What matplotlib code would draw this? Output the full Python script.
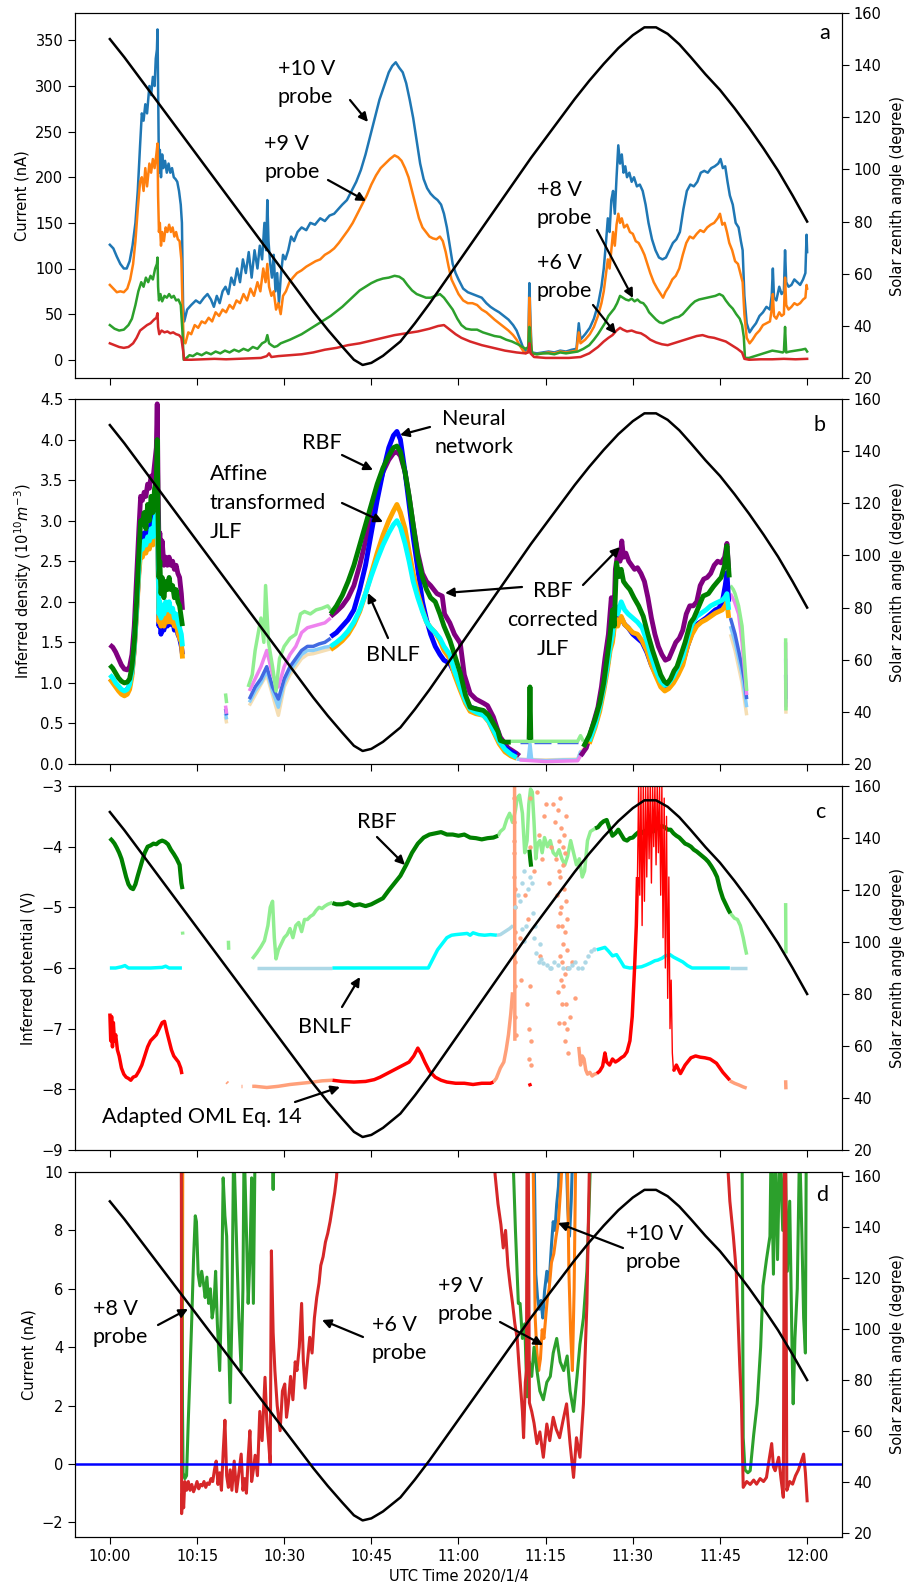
import numpy as np
import matplotlib
matplotlib.use("Agg")
import matplotlib.pyplot as plt

# ---------------- data (time in minutes after 10:00 UTC) ----------------
tick_minutes = [0, 15, 30, 45, 60, 75, 90, 105, 120]
tick_labels = ["10:00", "10:15", "10:30", "10:45", "11:00", "11:15", "11:30", "11:45", "12:00"]

sza_t = [0, 2.5, 5, 7.5, 10, 12.5, 15, 17.5, 20, 22.5, 25, 27.5, 30, 32.5, 35, 37.5, 40, 42, 43.5, 45,
         47, 50, 52.5, 55, 57.5, 60, 62.5, 65, 67.5, 70, 72.5, 75, 77.5, 80, 82.5, 85, 87.5, 90, 92, 94,
         96, 98, 100, 102.5, 105, 107.5, 110, 112.5, 115, 117.5, 120]
sza_v = [150, 143, 135.5, 128, 120.5, 113, 105.5, 98, 90.5, 83, 75.5, 68, 60.5, 53, 45.5, 38.5, 32, 27, 25, 25.8,
         28.5, 34, 41, 48.5, 56.5, 64.5, 72.5, 80.5, 88.5, 96.5, 104.5, 112, 119.5, 127, 134, 140.5, 146.5, 151.5, 154.5, 154.5,
         152, 148, 143, 136.5, 130.5, 123.5, 116, 108, 99.5, 90, 80]

# Panel a: probe currents (nA)
cur10 = [(0,126),(0.6,122),(1.2,113),(1.8,105),(2.4,100),(2.9,100),(3.4,108),(3.9,125),(4.4,150),(4.8,185),(5.2,235),(5.5,270),(5.8,262),(6.1,280),(6.4,270),(6.8,300),(7.1,290),(7.4,310),(7.7,300),(7.9,330),(8.1,340),(8.2,362),(8.3,300),(8.45,205),(8.6,230),(8.8,200),(9.0,225),(9.2,210),(9.5,218),(9.8,205),(10.1,215),(10.4,205),(10.7,210),(11.0,200),(11.3,198),(11.6,195),(11.9,185),(12.2,170),(12.4,150),(12.6,60),(12.8,42),(13.3,55),(14.0,60),(14.8,65),(15.5,62),(16.2,68),(16.8,72),(17.4,66),(17.9,58),(18.4,70),(18.9,62),(19.4,75),(19.9,80),(20.4,72),(20.9,90),(21.4,82),(21.9,100),(22.4,85),(22.9,110),(23.4,95),(23.9,118),(24.4,90),(24.9,120),(25.4,100),(25.8,125),(26.2,110),(26.6,150),(26.9,120),(27.1,175),(27.3,130),(27.6,105),(27.9,90),(28.2,115),(28.5,75),(28.8,95),(29.1,62),(29.4,90),(29.8,115),(30.2,110),(30.7,120),(31.2,135),(31.7,130),(32.3,140),(33.0,145),(33.8,142),(34.5,150),(35.3,148),(36.2,155),(37.0,152),(37.8,158),(38.6,160),(39.3,165),(40.0,170),(40.8,175),(41.6,185),(42.4,195),(43.2,208),(44.0,225),(44.8,245),(45.6,265),(46.4,285),(47.2,300),(48.0,315),(48.6,322),(49.2,326),(49.8,320),(50.4,315),(51.0,303),(51.6,285),(52.2,265),(52.8,240),(53.4,215),(54.0,198),(54.6,188),(55.2,182),(55.8,178),(56.4,175),(57.0,170),(57.5,160),(58.0,145),(58.5,125),(59.0,105),(59.5,95),(60.0,88),(60.8,78),(61.6,74),(62.4,72),(63.2,70),(64.0,68),(64.8,62),(65.5,58),(66.2,55),(67.0,52),(67.8,48),(68.6,44),(69.4,38),(70.0,32),(70.6,22),(71.2,12),(71.6,8),(72.0,12),(72.2,84),(72.4,40),(72.6,8),(73.5,7),(74.5,8),(75.5,9),(76.5,8),(77.5,10),(78.5,9),(79.5,11),(80.3,12),(80.7,40),(81.0,22),(81.8,28),(82.6,35),(83.3,45),(84.0,60),(84.6,80),(85.0,100),(85.4,130),(85.7,155),(86.0,140),(86.3,175),(86.6,185),(86.9,160),(87.2,200),(87.5,235),(87.8,215),(88.1,225),(88.4,205),(88.7,212),(89.0,200),(89.4,205),(89.8,195),(90.2,200),(90.7,190),(91.2,192),(91.7,185),(92.2,170),(92.7,150),(93.3,132),(93.9,120),(94.5,112),(95.1,110),(95.7,112),(96.3,120),(96.9,128),(97.5,132),(98.1,140),(98.7,165),(99.3,185),(99.9,192),(100.5,190),(101.1,195),(101.7,205),(102.3,207),(102.9,205),(103.5,210),(104.1,212),(104.7,215),(105.1,220),(105.5,210),(105.9,212),(106.3,195),(106.7,180),(107.2,170),(107.7,150),(108.2,145),(108.6,130),(108.9,120),(109.2,70),(109.6,40),(110.1,30),(110.6,35),(111.2,40),(111.8,48),(112.4,52),(113.0,58),(113.6,55),(113.9,70),(114.1,100),(114.3,68),(114.7,65),(115.2,80),(115.6,72),(116.0,75),(116.2,120),(116.4,85),(116.8,80),(117.3,82),(117.8,88),(118.3,85),(118.8,82),(119.3,88),(119.7,95),(119.9,137),(120,118)]
cur9 = [(0,82),(0.6,78),(1.2,74),(1.8,75),(2.4,74),(3.0,78),(3.5,88),(4.0,105),(4.4,130),(4.8,165),(5.2,195),(5.5,200),(5.8,185),(6.1,210),(6.4,190),(6.8,215),(7.1,205),(7.4,220),(7.7,210),(8.0,225),(8.2,237),(8.3,180),(8.45,140),(8.6,150),(8.8,125),(9.0,140),(9.3,130),(9.6,145),(9.9,140),(10.2,148),(10.5,140),(10.8,145),(11.1,135),(11.4,140),(11.7,132),(12.0,130),(12.3,110),(12.5,60),(12.7,20),(13.0,18),(13.5,30),(14.0,28),(14.6,38),(15.2,35),(15.8,42),(16.4,40),(17.0,46),(17.6,42),(18.2,52),(18.8,48),(19.4,55),(20.0,52),(20.6,60),(21.2,56),(21.8,65),(22.4,62),(23.0,72),(23.6,65),(24.2,78),(24.8,70),(25.4,85),(25.9,75),(26.4,100),(26.8,85),(27.1,105),(27.4,80),(27.8,70),(28.2,75),(28.6,55),(29.0,62),(29.4,50),(29.8,70),(30.3,75),(30.9,85),(31.5,90),(32.2,95),(33.0,98),(33.8,102),(34.6,105),(35.4,108),(36.2,110),(37.0,115),(37.8,118),(38.6,122),(39.4,128),(40.2,135),(41.0,142),(41.8,150),(42.6,160),(43.4,170),(44.2,180),(45.0,192),(45.8,202),(46.6,210),(47.4,215),(48.2,220),(49.0,224),(49.6,222),(50.2,218),(50.8,210),(51.4,200),(52.0,185),(52.6,170),(53.2,155),(53.8,145),(54.4,140),(55.0,135),(55.6,133),(56.2,132),(56.8,135),(57.3,130),(57.8,118),(58.3,102),(58.8,88),(59.4,80),(60.0,72),(60.8,65),(61.6,62),(62.4,62),(63.2,60),(64.0,55),(64.8,52),(65.5,48),(66.2,44),(67.0,40),(67.8,36),(68.6,32),(69.4,27),(70.0,22),(70.6,15),(71.2,9),(71.6,7),(72.0,10),(72.2,68),(72.4,30),(72.6,7),(73.5,6),(74.5,7),(75.5,8),(76.5,7),(77.5,9),(78.5,8),(79.5,9),(80.3,10),(80.7,30),(81.0,18),(81.8,22),(82.6,28),(83.3,36),(84.0,48),(84.6,62),(85.0,75),(85.4,95),(85.7,110),(86.0,100),(86.3,120),(86.6,140),(86.9,125),(87.2,148),(87.5,160),(87.8,150),(88.1,155),(88.5,145),(89.0,148),(89.5,140),(90.0,138),(90.5,130),(91.0,128),(91.5,122),(92.0,115),(92.5,105),(93.0,95),(93.6,85),(94.2,78),(94.8,72),(95.2,68),(95.6,74),(96.2,80),(96.8,88),(97.4,92),(98.0,100),(98.6,115),(99.2,128),(99.8,135),(100.4,133),(101.0,138),(101.6,142),(102.2,140),(102.8,145),(103.4,148),(104.0,150),(104.6,155),(105.0,160),(105.4,148),(105.8,150),(106.2,140),(106.6,128),(107.1,120),(107.6,108),(108.1,105),(108.5,95),(108.9,85),(109.2,50),(109.6,24),(110.1,18),(110.6,22),(111.2,28),(111.8,32),(112.4,38),(113.0,40),(113.6,42),(113.9,55),(114.1,72),(114.3,48),(114.7,45),(115.2,52),(115.6,48),(116.0,50),(116.2,90),(116.4,60),(116.8,55),(117.3,58),(117.8,62),(118.3,60),(118.8,62),(119.3,66),(119.7,68),(119.9,82),(120,78)]
cur8 = [(0,38),(0.8,34),(1.6,32),(2.4,33),(3.2,38),(3.8,45),(4.4,60),(4.9,75),(5.4,85),(5.8,80),(6.2,90),(6.6,85),(7.0,92),(7.4,88),(7.8,100),(8.1,105),(8.2,112),(8.3,80),(8.45,65),(8.7,72),(9.0,64),(9.4,70),(9.8,68),(10.2,72),(10.6,68),(11.0,70),(11.4,65),(11.8,66),(12.2,60),(12.5,30),(12.7,0),(13.2,2),(13.7,5),(14.3,4),(15.0,7),(15.8,5),(16.6,8),(17.4,6),(18.2,9),(19.0,7),(19.8,10),(20.6,8),(21.4,11),(22.2,9),(23.0,12),(23.8,10),(24.6,14),(25.4,12),(26.2,18),(26.8,20),(27.1,27),(27.4,18),(27.8,16),(28.3,14),(28.8,15),(29.4,18),(30.2,20),(31.0,22),(32.0,25),(33.0,28),(34.0,32),(35.0,36),(36.0,40),(37.0,44),(38.0,48),(39.0,53),(40.0,58),(41.0,64),(42.0,70),(43.0,76),(44.0,80),(45.0,84),(46.0,87),(47.0,89),(48.0,90),(49.0,92),(49.8,91),(50.5,88),(51.2,82),(52.0,76),(52.8,72),(53.6,70),(54.4,68),(55.2,68),(56.0,70),(56.8,72),(57.5,68),(58.2,62),(59.0,55),(59.8,45),(60.5,38),(61.3,34),(62.2,33),(63.2,33),(64.2,30),(65.2,28),(66.2,26),(67.2,25),(68.2,22),(69.2,20),(70.2,17),(71.0,14),(71.6,12),(72.0,14),(72.2,36),(72.4,18),(72.7,7),(73.5,6),(74.5,7),(75.5,7),(76.5,6),(77.5,8),(78.5,7),(79.5,8),(80.5,9),(81.5,12),(82.5,16),(83.3,22),(84.0,28),(84.6,34),(85.2,40),(85.8,48),(86.3,52),(86.8,56),(87.3,62),(87.8,70),(88.3,68),(88.8,66),(89.3,65),(89.8,67),(90.3,64),(90.8,66),(91.3,63),(91.8,62),(92.3,58),(92.8,52),(93.4,48),(94.0,44),(94.6,41),(95.2,40),(95.8,42),(96.5,44),(97.2,46),(97.9,47),(98.6,50),(99.3,55),(100.0,60),(100.7,64),(101.4,66),(102.1,67),(102.8,68),(103.5,69),(104.2,70),(104.9,72),(105.5,70),(106.0,65),(106.6,60),(107.2,56),(107.8,50),(108.4,45),(108.8,38),(109.1,25),(109.3,2),(110.0,2),(111.0,4),(112.0,6),(113.0,8),(114.0,10),(115.0,9),(115.8,8),(116.0,9),(116.2,36),(116.4,8),(117.0,9),(118.0,10),(119.0,11),(119.7,12),(120,9)]
cur6 = [(0,18),(0.8,16),(1.6,14),(2.4,13),(3.2,14),(4.0,18),(4.6,24),(5.2,32),(5.8,35),(6.4,38),(7.0,40),(7.6,44),(8.0,46),(8.2,51),(8.3,36),(8.5,28),(8.9,32),(9.4,30),(9.9,31),(10.4,29),(10.9,30),(11.4,28),(11.9,27),(12.3,24),(12.6,10),(12.8,0),(14,0),(16,0.5),(18,1),(20,0.5),(22,1),(24,1.5),(26,2),(27,4),(27.4,7),(27.8,3),(29,4),(31,5),(33,6),(35,8),(37,11),(39,13),(41,16),(43,18),(45,21),(47,24),(49,27),(51,29),(53,31),(55,34),(56.5,37),(57.5,38),(58.5,33),(59.5,28),(60.5,24),(62,20),(64,16),(66,13),(68,10),(70,8),(71.5,7),(72,8),(72.2,18),(72.4,7),(73,3),(75,2),(77,2),(79,2),(81,3),(82.5,7),(84,14),(85,20),(85.8,24),(86.5,27),(87.2,32),(87.8,35),(88.3,33),(89,31),(89.8,32),(90.6,30),(91.4,29),(92.2,26),(93,22),(94,19),(95,17),(96,16),(97,18),(98,20),(99,22),(100,24),(101,26),(102,27),(103,25),(104,24),(105,22),(106,20),(107,16),(108,12),(108.8,8),(109.2,1),(110,0),(112,0.5),(114,0.5),(116,1),(118,0.5),(120,1)]

# Panel b: inferred density (1e10 m^-3); each method: reliable segments + flagged segments
dens_purple = [[(0,1.47),(0.5,1.44),(1,1.38),(1.5,1.3),(2,1.22),(2.5,1.17),(3.0,1.16),(3.4,1.2),(3.8,1.35),(4.2,1.7),(4.6,2.3),(5.0,2.9),(5.3,3.3),(5.6,3.25),(5.9,3.35),(6.2,3.3),(6.5,3.45),(6.8,3.4),(7.1,3.55),(7.4,3.5),(7.7,3.7),(8.0,3.9),(8.15,4.44),(8.3,3.4),(8.45,2.7),(8.6,2.85),(8.8,2.6),(9.0,2.75),(9.3,2.45),(9.6,2.55),(9.9,2.45),(10.2,2.55),(10.5,2.45),(10.8,2.5),(11.1,2.4),(11.4,2.45),(11.7,2.35),(12.0,2.3),(12.3,2.1),(12.5,1.9)],
               [(38,1.82),(39,1.88),(40,1.95),(41,2.05),(42,2.2),(43,2.45),(44,2.75),(45,3.05),(46,3.35),(47,3.6),(48,3.75),(48.8,3.83),(49.4,3.85),(50,3.8),(50.8,3.6),(51.5,3.3),(52.2,2.95),(53,2.6),(53.8,2.35),(54.5,2.25),(55.2,2.2),(56.3,2.1),(57.2,2.07),(57.6,1.85),(58.5,1.74),(59.3,1.6),(60.3,1.49),(61,1.1),(62,0.87),(63,0.8),(64.3,0.75),(65,0.72),(66,0.58),(66.6,0.45),(67.2,0.33),(68.5,0.2),(70,0.13),(70.5,0.1)],
               [(81,0.1),(82,0.2),(83,0.45),(84,0.7),(84.6,0.95),(85.2,1.3),(85.8,1.6),(86.3,2.05),(86.7,1.7),(87,2.4),(87.4,2.6),(87.8,2.5),(88.1,2.75),(88.4,2.55),(88.8,2.6),(89.3,2.5),(89.8,2.45),(90.3,2.4),(90.8,2.42),(91.4,2.35),(92.0,2.25),(92.6,2.05),(93.2,1.8),(93.8,1.6),(94.4,1.45),(95.0,1.35),(95.6,1.28),(96.2,1.3),(96.8,1.4),(97.4,1.5),(98.0,1.55),(98.6,1.65),(99.2,1.85),(99.8,1.95),(100.4,1.95),(101.0,2.0),(101.6,2.2),(102.2,2.28),(102.8,2.3),(103.4,2.35),(104.0,2.45),(104.6,2.5),(105.2,2.48),(105.8,2.55),(106.2,2.72),(106.5,2.4)]]
dens_purple_flag = [[(19.9,0.72),(20.1,0.62)],
                    [(24,0.9),(25,1.05),(26,1.2),(27,1.4),(28,1.1),(29,0.95),(30,1.2),(31,1.35),(32,1.45),(33,1.62),(34,1.68),(35,1.7),(36,1.72),(37,1.74),(38,1.8)],
                    [(70.5,0.05),(75,0.03),(80.5,0.04),(81,0.1)],
                    [(106.8,2.1),(107.5,2.0),(108.2,1.85),(108.8,1.5),(109.3,1.1),(109.6,0.85)],
                    [(116.3,1.5),(116.35,0.7)]]
dens_green = [[(0,1.22),(0.5,1.18),(1,1.12),(1.5,1.06),(2,1.02),(2.5,1.0),(3.0,1.01),(3.4,1.05),(3.8,1.2),(4.2,1.5),(4.6,2.0),(5.0,2.6),(5.3,3.0),(5.6,2.95),(5.9,3.1),(6.2,2.9),(6.5,3.2),(6.8,3.0),(7.1,3.3),(7.4,3.1),(7.7,3.4),(8.0,3.5),(8.15,4.0),(8.3,3.0),(8.45,2.3),(8.6,2.5),(8.8,2.1),(9.0,2.3),(9.3,2.05),(9.6,2.25),(9.9,2.15),(10.2,2.3),(10.5,2.15),(10.8,2.2),(11.1,2.05),(11.4,2.15),(11.7,2.0),(12.0,1.95),(12.3,1.8),(12.5,1.7)],
              [(38,1.85),(39,1.95),(40,2.08),(41,2.25),(42,2.45),(43,2.7),(44,2.95),(45,3.2),(46,3.45),(47,3.65),(48,3.8),(48.8,3.9),(49.4,3.92),(50,3.85),(50.8,3.6),(51.5,3.3),(52.2,2.95),(53,2.55),(53.8,2.3),(54.5,2.15),(55.2,2.05),(56,2.0),(56.8,1.85),(57.5,1.7),(58.5,1.53),(59.3,1.35),(60.3,1.12),(61.2,0.85),(62,0.7),(63,0.68),(64.3,0.66),(65.2,0.6),(66,0.5),(66.8,0.4),(67.2,0.29),(68,0.27),(69,0.27)],
              [(72.15,0.3),(72.3,0.95),(72.45,0.3)],
              [(81.5,0.21),(82.5,0.35),(83.5,0.55),(84.3,0.75),(85,1.0),(85.6,1.32),(86.1,1.6),(86.5,1.9),(86.8,1.7),(87.2,2.48),(87.6,2.31),(88.0,2.4),(88.4,2.25),(88.9,2.2),(89.5,2.15),(90.2,2.05),(91.0,1.95),(91.8,1.82),(92.6,1.6),(93.4,1.4),(94.1,1.25),(94.8,1.1),(95.4,1.02),(95.9,0.99),(96.5,1.05),(97.1,1.15),(97.6,1.2),(98.3,1.35),(99.0,1.5),(99.9,1.74),(100.5,1.8),(101.1,1.9),(102.1,2.07),(103.0,2.1),(103.9,2.19),(104.6,2.25),(105.2,2.3),(105.8,2.45),(106.2,2.69),(106.6,2.3)]]
dens_green_flag = [[(19.9,0.87),(20.1,0.75)],
                   [(23.8,0.95),(24.5,1.1),(25,1.4),(25.5,1.6),(26,1.8),(26.5,1.5),(26.8,2.2),(27.3,1.5),(28,1.2),(28.6,0.9),(29.2,1.3),(30,1.45),(31,1.55),(32,1.6),(32.8,1.85),(33.5,1.88),(34.5,1.85),(35.5,1.9),(36.5,1.92),(37.5,1.95),(38,1.9)],
                   [(69,0.28),(72,0.28),(72.6,0.28),(75,0.28),(78,0.28),(80.5,0.28),(81,0.35),(81.5,0.28)],
                   [(106.8,2.2),(107.3,2.15),(107.6,2.1),(108.2,1.95),(108.8,1.7),(109.3,1.2),(109.6,0.9)],
                   [(116.3,1.55),(116.35,0.66)]]
dens_blue = [[(0,1.05),(0.5,1.02),(1,0.98),(1.5,0.94),(2,0.91),(2.5,0.9),(3.0,0.92),(3.4,0.97),(3.8,1.12),(4.2,1.42),(4.6,1.9),(5.0,2.4),(5.3,2.7),(5.6,2.75),(5.9,2.85),(6.2,2.8),(6.5,2.9),(6.8,2.85),(7.1,3.0),(7.4,2.9),(7.7,3.1),(8.0,3.2),(8.15,3.5),(8.3,2.6),(8.45,1.7),(8.6,1.85),(8.8,1.6),(9.0,1.75),(9.3,1.65),(9.6,1.8),(9.9,1.7),(10.2,1.85),(10.5,1.72),(10.8,1.78),(11.1,1.65),(11.4,1.72),(11.7,1.6),(12.0,1.55),(12.3,1.45),(12.5,1.35)],
             [(38,1.57),(39,1.62),(40,1.7),(41,1.78),(42,1.9),(43,2.15),(44,2.45),(45,2.85),(46,3.25),(47,3.6),(48,3.9),(48.8,4.05),(49.4,4.1),(50,4.0),(50.8,3.6),(51.5,3.2),(52.2,2.8),(53,2.4),(53.8,2.0),(54.5,1.78),(55.2,1.6),(56,1.45),(56.8,1.35),(57.5,1.28),(58.5,1.24),(59.3,1.12),(60.3,0.95),(61.2,0.8),(62,0.7),(63,0.68),(64.3,0.62),(65.2,0.55),(66,0.42),(67,0.28),(68,0.2),(69,0.15),(70,0.12)],
             [(82.5,0.3),(83.5,0.5),(84.3,0.7),(85,0.95),(85.6,1.2),(86.1,1.45),(86.5,1.55),(87.0,1.85),(87.4,1.75),(88.0,1.8),(88.6,1.72),(89.2,1.68),(90.0,1.6),(90.8,1.55),(91.6,1.5),(92.4,1.38),(93.2,1.22),(94.0,1.1),(94.8,1.0),(95.5,0.95),(96.2,0.97),(97.0,1.05),(97.8,1.15),(98.6,1.25),(99.4,1.45),(100.2,1.62),(101.0,1.72),(101.8,1.76),(102.6,1.8),(103.4,1.85),(104.2,1.9),(104.8,1.92),(105.4,2.0),(105.9,2.2),(106.2,2.36),(106.5,2.0)]]
dens_blue_flag = [[(19.9,0.68),(20.1,0.6)],
                  [(24,0.8),(25,0.95),(26,1.05),(27,1.2),(28,0.95),(29,0.8),(30,1.05),(31,1.2),(32,1.3),(33,1.4),(34,1.45),(35,1.45),(36,1.48),(37,1.5),(38,1.55)],
                  [(70.5,0.27),(72,0.27)], [(73,0.27),(76,0.27)], [(77,0.27),(80.5,0.27)],
                  [(106.8,1.8),(107.6,1.6),(108.2,1.4),(108.8,1.2),(109.3,1.0),(109.6,0.8)],
                  [(116.3,1.1),(116.35,0.8)]]
dens_orange = [[(0,1.05),(0.5,1.0),(1,0.95),(1.5,0.9),(2,0.86),(2.5,0.84),(3.0,0.86),(3.4,0.92),(3.8,1.08),(4.2,1.4),(4.6,1.85),(5.0,2.35),(5.3,2.6),(5.6,2.55),(5.9,2.65),(6.2,2.6),(6.5,2.7),(6.8,2.65),(7.1,2.8),(7.4,2.7),(7.7,2.9),(8.0,3.0),(8.15,3.4),(8.3,2.5),(8.45,1.75),(8.6,1.9),(8.8,1.7),(9.0,1.8),(9.3,1.7),(9.6,1.85),(9.9,1.75),(10.2,1.9),(10.5,1.75),(10.8,1.8),(11.1,1.7),(11.4,1.75),(11.7,1.62),(12.0,1.55),(12.3,1.5),(12.5,1.3)],
               [(38,1.41),(39,1.46),(40,1.52),(41,1.6),(42,1.72),(43,1.88),(44,2.1),(45,2.35),(46,2.6),(47,2.82),(48,3.0),(48.8,3.12),(49.4,3.2),(50,3.1),(50.8,2.9),(51.5,2.62),(52.2,2.35),(53,2.1),(53.8,1.9),(54.5,1.75),(55.2,1.68),(56,1.62),(56.8,1.52),(57.5,1.4),(58.5,1.3),(59.3,1.1),(60.3,0.91),(61.2,0.75),(62,0.65),(63,0.62),(64.3,0.6),(65.2,0.52),(66,0.4),(67,0.25),(68,0.15),(69,0.1),(70,0.07)],
               [(82.5,0.25),(83.5,0.45),(84.3,0.65),(85,0.9),(85.6,1.15),(86.1,1.4),(86.5,1.5),(87.0,1.8),(87.4,1.7),(88.0,1.82),(88.6,1.72),(89.2,1.68),(90.0,1.62),(90.8,1.6),(91.6,1.52),(92.4,1.4),(93.2,1.22),(94.0,1.08),(94.8,0.95),(95.5,0.9),(96.2,0.93),(97.0,1.0),(97.8,1.1),(98.6,1.22),(99.4,1.45),(100.2,1.6),(101.0,1.7),(101.8,1.75),(102.6,1.78),(103.4,1.82),(104.2,1.86),(104.8,1.88),(105.4,1.9),(105.9,1.95),(106.2,2.0),(106.5,1.8)]]
dens_orange_flag = [[(19.9,0.58),(20.1,0.5)],
                    [(24,0.72),(25,0.85),(26,0.98),(27,1.1),(28,0.85),(29,0.6),(30,0.95),(31,1.1),(32,1.2),(33,1.3),(34,1.35),(35,1.36),(36,1.38),(37,1.4),(38,1.42)],
                    [(70,0.06),(75,0.05),(80.5,0.06),(81,0.15),(82.5,0.25)],
                    [(106.8,1.6),(107.6,1.4),(108.2,1.2),(108.8,1.0),(109.3,0.75),(109.6,0.6)],
                    [(116.3,1.0),(116.35,0.62)]]
dens_cyan = [[(0,1.1),(0.5,1.06),(1,1.0),(1.5,0.96),(2,0.92),(2.5,0.9),(3.0,0.92),(3.4,0.98),(3.8,1.14),(4.2,1.45),(4.6,1.92),(5.0,2.45),(5.3,2.7),(5.6,2.65),(5.9,2.75),(6.2,2.7),(6.5,2.8),(6.8,2.75),(7.1,2.9),(7.4,2.8),(7.7,3.0),(8.0,3.1),(8.15,3.3),(8.3,2.6),(8.45,1.85),(8.6,2.0),(8.8,1.8),(9.0,1.95),(9.3,1.85),(9.6,2.0),(9.9,1.9),(10.2,2.0),(10.5,1.88),(10.8,1.92),(11.1,1.8),(11.4,1.85),(11.7,1.75),(12.0,1.68),(12.3,1.6),(12.5,1.45)],
             [(38,1.45),(39,1.5),(40,1.56),(41,1.64),(42,1.75),(43,1.9),(44,2.1),(45,2.32),(46,2.52),(47,2.7),(48,2.85),(48.8,2.95),(49.4,3.0),(50,2.92),(50.8,2.72),(51.5,2.5),(52.2,2.25),(53,2.05),(53.8,1.88),(54.5,1.75),(55.2,1.68),(56,1.62),(56.8,1.55),(57.5,1.45),(58.5,1.35),(59.3,1.15),(60.3,0.95),(61.2,0.78),(62,0.68),(63,0.64),(64.3,0.6),(65.2,0.53),(66,0.42),(67,0.28),(68,0.18),(69,0.12),(70,0.08)],
             [(82.5,0.28),(83.5,0.48),(84.3,0.7),(85,0.95),(85.6,1.2),(86.1,1.45),(86.5,1.6),(87.0,1.95),(87.4,1.85),(88.0,2.0),(88.6,1.9),(89.2,1.85),(90.0,1.8),(90.8,1.75),(91.6,1.68),(92.4,1.52),(93.2,1.32),(94.0,1.15),(94.8,1.02),(95.5,0.97),(96.2,1.0),(97.0,1.08),(97.8,1.2),(98.6,1.32),(99.4,1.55),(100.2,1.72),(101.0,1.82),(101.8,1.86),(102.6,1.9),(103.4,1.95),(104.2,1.98),(104.8,2.0),(105.4,2.02),(105.9,2.06),(106.2,2.1),(106.5,1.9)]]
dens_cyan_flag = [[(19.9,0.62),(20.1,0.55)],
                  [(24,0.76),(25,0.9),(26,1.0),(27,1.15),(28,0.9),(29,0.7),(30,1.0),(31,1.15),(32,1.25),(33,1.35),(34,1.4),(35,1.4),(36,1.42),(37,1.44),(38,1.45)],
                  [(70,0.06),(72,0.05),(72.3,0.25),(72.6,0.05),(75,0.04),(78,0.05),(80.5,0.05),(81,0.15),(81.5,0.1)],
                  [(106.8,1.7),(107.6,1.5),(108.2,1.3),(108.8,1.1),(109.3,0.85),(109.6,0.7)],
                  [(116.3,1.3),(116.35,0.75)]]

# Panel c: inferred potential (V)
pot_rbf = [[(0,-3.86),(0.4,-3.9),(0.8,-3.95),(1.2,-4.02),(1.6,-4.1),(2.0,-4.2),(2.4,-4.35),(2.8,-4.5),(3.2,-4.62),(3.6,-4.68),(4.0,-4.7),(4.4,-4.62),(4.8,-4.48),(5.2,-4.35),(5.6,-4.22),(6.0,-4.1),(6.5,-4.0),(7.0,-3.98),(7.5,-3.95),(8.0,-3.96),(8.5,-3.92),(9.0,-3.9),(9.5,-3.92),(10.0,-3.96),(10.5,-4.05),(11.0,-4.12),(11.5,-4.2),(12.0,-4.3),(12.3,-4.6),(12.5,-4.7)],
           [(38.3,-4.93),(39,-4.95),(40,-4.95),(41,-4.92),(42,-4.97),(43,-4.95),(44,-4.98),(45,-4.95),(46,-4.9),(47,-4.85),(48,-4.72),(49,-4.6),(50,-4.48),(51,-4.3),(52,-4.1),(53,-3.95),(54,-3.85),(55,-3.8),(56,-3.78),(57,-3.76),(58,-3.8),(59,-3.8),(60,-3.82),(61,-3.8),(62,-3.85),(63,-3.86),(64,-3.88),(65,-3.86),(66,-3.85),(66.8,-3.82)],
           [(72.2,-4.05),(72.35,-4.2),(72.5,-4.33)],
           [(83.5,-3.7),(84,-3.68),(84.5,-3.62),(85,-3.58),(85.5,-3.56),(86,-3.7),(86.5,-3.82),(87,-3.78),(87.5,-3.72),(88,-3.8),(88.5,-3.88),(89,-3.9),(89.5,-3.86),(90,-3.85),(90.5,-3.8),(91,-3.76),(91.5,-3.78),(92,-3.74),(92.5,-3.77),(93,-3.72),(93.5,-3.75),(94,-3.7),(94.5,-3.68),(95,-3.66),(95.5,-3.68),(96,-3.72),(96.5,-3.72),(97,-3.78),(97.5,-3.82),(98,-3.85),(98.5,-3.9),(99,-3.95),(99.5,-3.97),(100,-4.0),(100.5,-4.05),(101,-4.08),(101.5,-4.12),(102,-4.16),(102.5,-4.2),(103,-4.25),(103.5,-4.32),(104,-4.4),(104.5,-4.5),(105,-4.7),(105.5,-4.85),(106,-4.95),(106.5,-5.05),(106.8,-5.1)]]
pot_rbf_flag = [[(12.5,-5.4),(12.55,-5.45)], [(20.4,-5.55),(20.45,-5.7)],
                [(24.5,-5.85),(25.3,-5.75),(26,-5.65),(26.6,-5.55),(27.2,-5.3),(27.6,-5.0),(28,-4.9),(28.3,-5.5),(28.6,-5.85),(29,-5.7),(29.5,-5.6),(30,-5.5),(30.5,-5.45),(31,-5.35),(31.5,-5.5),(32,-5.3),(32.5,-5.25),(33,-5.4),(33.5,-5.2),(34,-5.2),(34.5,-5.15),(35,-5.12),(35.5,-5.05),(36,-5.0),(36.5,-5.02),(37,-4.98),(37.5,-4.95),(38.3,-4.92)],
                [(66.8,-3.82),(67.2,-3.75),(67.8,-3.7),(68.3,-3.55),(68.8,-3.45),(69.3,-3.6),(69.8,-3.4),(70.1,-3.2),(70.5,-3.15),(71.0,-3.45),(71.4,-4.1),(71.8,-3.9),(72.1,-3.3),(72.4,-3.05),(72.7,-3.1),(73.0,-3.6),(73.3,-4.2),(73.6,-3.95),(74,-3.9),(74.4,-4.1),(74.8,-3.85),(75.3,-4.0),(75.8,-3.9),(76.3,-4.1),(76.8,-4.15),(77.3,-4.05),(77.8,-4.2),(78.3,-4.3),(78.8,-4.15),(79.3,-3.9),(79.8,-4.1),(80.3,-4.3),(80.8,-4.2),(81.3,-4.5),(81.7,-4.4),(82.2,-3.9),(82.7,-3.75),(83.5,-3.7)],
                [(106.8,-5.1),(107.5,-5.18),(108,-5.2),(108.5,-5.3),(109,-5.5),(109.3,-5.65),(109.6,-5.78)],
                [(116.3,-4.93),(116.35,-5.76)]]
pot_bnlf = [[(0,-6.0),(1,-6.0),(2,-5.98),(2.6,-5.96),(3.2,-6.0),(5,-6.0),(7,-6.0),(9,-5.99),(9.6,-5.97),(10.2,-6.0),(12.4,-6.0)],
            [(38.3,-6.0),(54.8,-6.0),(55.6,-5.85),(56.4,-5.7),(57.2,-5.6),(58,-5.5),(58.8,-5.46),(59.5,-5.45),(60.5,-5.44),(61.5,-5.43),(62,-5.46),(62.5,-5.42),(63.5,-5.45),(64.5,-5.46),(65.5,-5.45),(66.6,-5.46)],
            [(83.8,-5.7),(84.5,-5.68),(85.2,-5.66),(85.8,-5.72),(86.5,-5.8),(87.2,-5.78),(88,-5.9),(88.5,-5.98),(89.5,-6.0),(90.5,-5.99),(91.5,-5.98),(92.3,-5.95),(93,-5.92),(93.8,-5.88),(94.3,-5.87),(95,-5.84),(95.6,-5.8),(96.4,-5.78),(97,-5.82),(97.8,-5.86),(98.6,-5.9),(99.4,-5.96),(100.2,-6.0),(106.7,-6.0)]]
pot_bnlf_flag = [[(25.3,-6.0),(38.3,-6.0)], [(66.6,-5.46),(67.2,-5.45),(68,-5.4),(68.8,-5.35),(69.4,-5.3)],
                 [(106.7,-6.0),(109.6,-6.0)]]
pot_bnlf_dots = [(69.8,-5.0),(70.2,-4.8),(70.5,-4.9),(70.9,-5.35),(71.3,-5.55),(71.6,-5.3),(72.0,-4.7),(72.3,-4.5),(72.6,-4.6),(73,-5.5),(73.4,-5.75),(73.8,-5.9),(74.2,-5.85),(74.6,-5.92),(75.2,-5.95),(75.8,-6.0),(76.5,-5.9),(77.2,-5.95),(78,-6.0),(78.8,-6.0),(79.5,-5.95),(80,-5.9),(80.5,-6.0),(81.2,-6.0),(81.8,-5.9),(82.3,-5.8),(82.8,-5.72),(83.3,-5.68),(71.0,-4.6),(71.2,-4.4),(72.8,-5.1),(73.2,-5.3),(74.0,-5.6),(76.0,-6.0),(79.0,-6.0)]
pot_oml = [[(0,-6.75),(0.15,-7.2),(0.3,-6.8),(0.45,-7.3),(0.6,-6.9),(0.8,-7.2),(1.0,-7.1),(1.3,-7.35),(1.6,-7.45),(2.0,-7.65),(2.4,-7.75),(2.8,-7.8),(3.2,-7.82),(3.6,-7.85),(4.0,-7.8),(4.5,-7.78),(5.0,-7.7),(5.5,-7.6),(6.0,-7.45),(6.5,-7.3),(7.0,-7.2),(7.5,-7.15),(8.0,-7.1),(8.5,-7.0),(9.0,-6.9),(9.4,-6.88),(9.8,-7.05),(10.2,-7.2),(10.6,-7.35),(11.0,-7.45),(11.4,-7.5),(11.8,-7.55),(12.2,-7.65),(12.4,-7.75)],
           [(38.3,-7.85),(40,-7.87),(42,-7.88),(44,-7.87),(45.5,-7.84),(46.5,-7.8),(47.5,-7.75),(48.5,-7.7),(49.5,-7.65),(50.5,-7.6),(51.5,-7.55),(52.3,-7.45),(53.0,-7.32),(53.6,-7.42),(54.2,-7.55),(55,-7.7),(56,-7.8),(57,-7.85),(58,-7.88),(59.5,-7.9),(61,-7.9),(62.5,-7.92),(64,-7.9),(65.5,-7.9),(66,-7.88)],
           [(72.2,-7.9),(72.4,-7.95)],
           [(83.8,-7.74),(84.3,-7.7),(84.8,-7.62),(85.2,-7.4),(85.5,-7.55),(86,-7.6),(86.5,-7.5),(87,-7.55),(87.5,-7.52),(88,-7.48),(88.5,-7.45),(89,-7.38),(89.5,-7.2),(89.9,-6.8),(90.3,-6.0),(90.6,-5.3),(90.8,-4.5)],
           [(97.0,-7.7),(97.5,-7.6),(98.2,-7.74),(99,-7.6),(100,-7.48),(100.8,-7.45),(101.6,-7.47),(102.4,-7.48),(103.3,-7.5),(104.4,-7.57),(105.5,-7.72),(106.7,-7.85)]]
pot_oml_burst = [(90.8,-4.5),(91.0,-3.0),(91.2,-4.8),(91.4,-3.0),(91.6,-5.3),(91.8,-3.0),(92.0,-4.9),(92.2,-3.0),(92.4,-4.5),(92.6,-3.0),(92.8,-4.2),(93.0,-3.0),(93.2,-4.6),(93.4,-3.0),(93.6,-4.0),(93.8,-3.0),(94.0,-4.3),(94.2,-3.0),(94.4,-4.1),(94.6,-3.0),(94.8,-4.8),(95.0,-3.0),(95.2,-5.5),(95.4,-3.2),(95.6,-6.0),(95.8,-3.5),(96.0,-6.5),(96.2,-4.5),(96.4,-7.0),(96.6,-6.2),(96.8,-7.4),(97.0,-7.7)]
pot_oml_flag = [[(20.1,-7.88),(20.3,-7.9)], [(22.5,-7.95),(22.7,-7.95)],
                [(24.5,-7.95),(25,-7.95),(27,-7.97),(29,-7.95),(31,-7.92),(33,-7.9),(35,-7.88),(36.5,-7.86),(38.3,-7.85)],
                [(66,-7.88),(66.5,-7.82),(67.2,-7.65),(67.8,-7.55),(68.2,-7.35),(68.6,-7.1),(69.0,-6.75),(69.3,-6.4)],
                [(69.65,-3.0),(69.7,-7.2)],
                [(80.7,-7.3),(81.0,-7.6),(81.3,-7.45),(81.6,-7.5),(81.9,-7.68),(82.2,-7.75),(82.6,-7.72),(83.0,-7.78),(83.4,-7.75),(83.8,-7.74)],
                [(106.7,-7.86),(107.5,-7.9),(108.3,-7.93),(109,-7.96),(109.6,-7.98)],
                [(116.3,-7.85),(116.35,-8.0)]]
pot_oml_dots = [(69.5,-3.2),(69.55,-3.6),(69.6,-4.1),(69.62,-4.5),(69.65,-5.0),(69.7,-5.4),(69.72,-5.9),(69.75,-6.3),(69.8,-6.8),(69.85,-7.1),(69.58,-3.9),(69.68,-4.7),(69.74,-5.6),(70.5,-5.5),(70.8,-6.2),(71.5,-4.8),(71.8,-6.6),(72.0,-5.2),(72.1,-7.0),(72.2,-7.5),(72.25,-3.2),(72.3,-4.0),(72.35,-6.3),(72.4,-7.6),(72.45,-7.2),(73.0,-4.4),(73.5,-3.1),(74.0,-5.8),(74.8,-3.5),(75.5,-4.6),(76.2,-3.3),(76.6,-3.6),(76.8,-4.2),(77.0,-4.8),(77.1,-3.4),(77.2,-5.3),(77.3,-3.9),(77.4,-5.8),(77.5,-4.5),(77.6,-6.2),(77.7,-5.0),(77.8,-6.6),(77.9,-4.0),(78.0,-5.6),(78.1,-6.9),(78.2,-4.7),(78.3,-7.2),(78.4,-5.4),(78.5,-3.5),(78.6,-6.0),(78.7,-7.0),(77.25,-4.4),(77.45,-5.1),(77.65,-3.7),(77.85,-5.3),(78.05,-4.3),(78.25,-6.1),(78.45,-4.9),(78.65,-5.7),(79.5,-5.9),(80.0,-6.5),(79.2,-6.8),(78.9,-7.4),(73.8,-3.8),(74.4,-4.2),(75.0,-3.3),(76.0,-4.0),(77.15,-6.4),(77.35,-6.9),(77.55,-3.2),(77.75,-5.9),(77.95,-6.3),(78.15,-3.8),(78.35,-4.1),(78.55,-6.6),(78.75,-5.2)]

# Panel d: probe currents zoomed (nA); values above 10 are off-scale
low10 = [(0,11),(12.3,11),(73.0,11),(73.3,6.5),(73.6,5.7),(73.9,5.3),(74.2,5.6),(74.5,5.0),(74.8,5.9),(75.2,6.6),(75.6,6.2),(76.0,7.5),(76.3,8.3),(76.6,8.0),(76.9,8.9),(77.2,9.5),(77.5,11),(78.5,11),(78.8,8.8),(79.1,7.8),(79.4,9.0),(79.7,11),(120,11)]
low9 = [(0,11),(12.35,11),(12.45,0.0),(12.55,11),(72.8,11),(73.2,5.0),(73.5,3.8),(73.8,3.2),(74.1,3.6),(74.4,4.6),(74.7,4.3),(75.0,5.0),(75.3,5.7),(75.6,6.0),(76.0,6.9),(76.4,7.2),(76.8,7.8),(77.2,8.3),(77.6,9.5),(78.0,11),(78.7,11),(79.0,6.6),(79.3,4.5),(79.6,3.2),(79.9,6.0),(80.2,11),(120,11)]
low8 = [(0,11),(12.3,11),(12.45,3),(12.6,-0.3),(12.9,-0.5),(13.2,-0.4),(13.5,1.5),(13.8,3.2),(14.1,5.0),(14.4,7.0),(14.7,8.5),(14.9,8.3),(15.2,6.5),(15.5,6.1),(15.8,6.6),(16.1,6.2),(16.4,5.7),(16.7,6.4),(17.0,5.5),(17.3,6.0),(17.6,5.0),(17.9,5.4),(18.2,6.6),(18.5,4.8),(18.9,3.2),(19.2,5.5),(19.5,9.8),(19.8,8.5),(20.1,7.8),(20.4,4.5),(20.7,2.1),(21.0,5.0),(21.3,11),(21.6,9.0),(21.9,6.9),(22.2,5.0),(22.6,3.2),(22.9,6.0),(23.1,11),(23.5,8.0),(23.8,5.5),(24.1,7.0),(24.4,9.8),(24.7,5.5),(25.0,11),(27.9,11),(28.1,9.4),(28.3,11),(69.3,11),(69.8,8.0),(70.3,5.5),(70.6,5.5),(71.0,4.3),(71.4,4.8),(71.8,2.3),(72.2,3.5),(72.6,3.0),(73.0,4.0),(73.5,3.2),(74.0,2.5),(74.6,2.2),(75.2,2.8),(75.8,3.0),(76.3,3.8),(76.9,4.3),(77.5,3.5),(78.1,3.2),(78.7,3.7),(79.2,2.5),(79.8,1.8),(80.4,3.0),(80.9,4.1),(81.5,5.0),(82.1,6.6),(82.5,9.0),(82.8,11),(108.8,11),(109.0,0.9),(109.3,-0.2),(109.8,-0.3),(110.2,-0.23),(110.8,1.0),(111.4,2.06),(112.0,4.0),(112.4,6.1),(113.0,7.0),(113.6,7.8),(113.8,11),(114.2,6.5),(114.5,11),(114.9,7.0),(115.3,11),(115.8,8.0),(116.2,11),(116.6,6.6),(117.0,9.0),(117.4,4.0),(117.6,2.06),(117.9,4.3),(118.3,6.0),(118.7,11),(119.1,7.8),(119.4,5.0),(119.7,3.8),(119.85,11),(120,11)]
low6 = [(0,11),(12.3,11),(12.35,-1.7),(12.5,-1.0),(12.7,-1.5),(12.9,-0.6),(13.2,-0.9),(13.5,-0.6),(13.8,-0.9),(14.1,-0.7),(14.4,-0.95),(14.7,-0.8),(15.0,-0.6),(15.3,-0.85),(15.6,-0.7),(15.9,-0.75),(16.2,-0.6),(16.5,-0.8),(16.8,-0.65),(17.1,-0.7),(17.4,-0.5),(17.7,-0.6),(18.0,-0.2),(18.3,0.1),(18.6,-0.7),(18.9,-0.3),(19.2,-0.9),(19.5,0.4),(19.8,1.5),(20.1,-0.4),(20.4,-0.8),(20.7,-0.2),(21.0,-0.9),(21.4,0.1),(21.8,-0.95),(22.2,-0.3),(22.6,0.34),(22.9,-0.9),(23.2,-0.5),(23.5,-1.0),(23.8,0.2),(24.1,1.14),(24.4,-0.6),(24.7,-0.2),(25.0,0.3),(25.4,-0.4),(25.8,1.8),(26.2,0.8),(26.7,2.97),(27.0,1.5),(27.3,0.8),(27.6,0.0),(27.8,7.3),(28.1,4.5),(28.4,3.2),(28.8,2.0),(29.3,1.14),(29.7,2.5),(30.1,2.74),(30.4,1.6),(30.7,2.06),(31.1,3.0),(31.5,2.2),(31.9,3.5),(32.2,3.2),(32.6,4.0),(33.0,5.5),(33.3,3.5),(33.6,2.6),(34.0,3.5),(34.4,4.34),(34.8,3.8),(35.2,5.0),(35.6,5.7),(36.0,6.2),(36.3,6.8),(36.7,7.1),(37.1,7.6),(37.5,7.9),(37.9,8.3),(38.3,8.8),(38.7,9.3),(39.0,9.8),(39.4,11),(66.0,11),(66.3,9.9),(66.8,8.9),(67.3,8.2),(67.7,7.4),(68.1,8.0),(68.5,6.8),(68.9,6.1),(69.3,5.5),(69.7,4.8),(70.1,4.3),(70.4,3.4),(70.7,2.6),(71.0,1.8),(71.2,0.9),(71.5,2.8),(71.7,3.2),(71.8,11),(72.0,11),(72.2,2.1),(72.6,1.8),(73.0,1.4),(73.5,0.7),(74.0,1.1),(74.6,0.23),(75.2,1.37),(75.7,0.8),(76.3,1.6),(76.8,1.2),(77.4,0.9),(78.0,1.5),(78.6,2.06),(79.2,0.7),(79.8,-0.46),(80.3,0.9),(80.9,0.23),(81.5,2.06),(82.1,5.5),(82.4,8.9),(82.6,11),(106.1,11),(106.7,9.0),(107.3,7.8),(107.8,6.6),(108.4,3.4),(108.7,2.06),(109.0,-0.8),(109.6,-0.6),(110.2,-0.7),(110.8,-0.55),(111.3,-0.69),(111.9,-0.5),(112.5,-0.6),(113.0,-0.46),(113.5,0.2),(113.9,0.7),(114.2,-0.1),(114.5,-0.23),(115.1,0.23),(115.5,-0.5),(115.9,-1.14),(116.1,11),(116.3,11),(116.5,-0.9),(117.0,-0.6),(117.5,-0.69),(118.0,-0.4),(118.5,-0.2),(119.0,0.1),(119.4,0.34),(119.7,-0.3),(120,-1.26)]

# ---------------- drawing ----------------
plt.rcParams['font.family'] = ['DejaVu Sans']
W, H = 912, 1585
fig = plt.figure(figsize=(W / 100, H / 100), dpi=100)

def fp(x, y):
    return (x / W, 1 - y / H)

L, R = 75, 842
panels_px = [(13, 378), (399, 764), (786, 1150), (1172, 1537)]
axes = []
for top, bot in panels_px:
    axes.append(fig.add_axes([L / W, 1 - bot / H, (R - L) / W, (bot - top) / H]))

def xy(pairs):
    a = np.array(pairs, float)
    return a[:, 0], a[:, 1]

def segs(ax, seglist, color, lw, z=2):
    for s in seglist:
        x, y = xy(s)
        ax.plot(x, y, color=color, lw=lw, solid_capstyle='butt', zorder=z)

ANN_FONT = ['Lato', 'DejaVu Sans']

def label(ax, text, pos, ha='left'):
    ax.annotate(text, xy=fp(*pos), xycoords='figure fraction', ha=ha, va='center',
                fontsize=15.5, family=ANN_FONT, linespacing=1.55, annotation_clip=False, zorder=20)

def arrow(ax, tail, tip):
    ax.annotate('', xy=fp(*tip), xytext=fp(*tail), xycoords='figure fraction',
                textcoords='figure fraction', annotation_clip=False, zorder=20,
                arrowprops=dict(arrowstyle='-|>', color='black', lw=1.6,
                                mutation_scale=13, shrinkA=0, shrinkB=0))

twins = []
for i, ax in enumerate(axes):
    ax.set_xlim(-6, 126)
    ax.set_xticks(tick_minutes)
    if i < 3:
        ax.set_xticklabels([])
    else:
        ax.set_xticklabels(tick_labels)
    ax.tick_params(labelsize=10.5, length=5)
    tw = ax.twinx()
    tw.plot(sza_t, sza_v, color='black', lw=1.8, zorder=5)
    tw.set_ylim(20, 160) if i < 3 else tw.set_ylim(18.5, 161.5)
    tw.set_yticks(range(20, 161, 20))
    tw.tick_params(labelsize=10.5, length=5)
    tw.set_ylabel('Solar zenith angle (degree)', fontsize=10.5, labelpad=6)
    twins.append(tw)

# Panel a
ax = axes[0]
for data, col in [(cur10, '#1f77b4'), (cur9, '#ff7f0e'), (cur8, '#2ca02c'), (cur6, '#d62728')]:
    x, y = xy(data)
    ax.plot(x, y, color=col, lw=1.8)
ax.set_ylim(-20, 380)
ax.set_yticks(range(0, 351, 50))
ax.set_ylabel('Current (nA)', fontsize=10.5)

# Panel b
ax = axes[1]
segs(ax, dens_orange_flag, '#f5deb3', 2.5)
segs(ax, dens_cyan_flag, '#87cefa', 2.5)
segs(ax, dens_blue_flag, '#4169e1', 2.5)
segs(ax, dens_purple_flag, '#ee82ee', 2.5)
segs(ax, dens_green_flag, '#90ee90', 2.5)
segs(ax, dens_purple, '#800080', 3.5)
segs(ax, dens_blue, '#0000ff', 3.5)
segs(ax, dens_orange, '#ffa500', 3.5)
segs(ax, dens_cyan, '#00ffff', 3.5)
segs(ax, dens_green, '#008000', 3.5)
ax.set_ylim(0, 4.5)
ax.set_yticks(np.arange(0, 4.51, 0.5))
ax.set_yticklabels([f'{v:.1f}' for v in np.arange(0, 4.51, 0.5)])
ax.set_ylabel(r'Inferred density ($10^{10}m^{-3}$)', fontsize=10.5)

# Panel c
ax = axes[2]
segs(ax, pot_rbf_flag, '#90ee90', 2.5)
segs(ax, pot_bnlf_flag, '#add8e6', 2.5)
segs(ax, pot_oml_flag, '#ffa07a', 2.5)
x, y = xy(pot_oml_dots)
ax.plot(x, y, ls='none', marker='o', ms=2.2, color='#ffa07a')
x, y = xy(pot_bnlf_dots)
ax.plot(x, y, ls='none', marker='o', ms=2.2, color='#add8e6')
segs(ax, pot_rbf, '#008000', 3.0)
segs(ax, pot_bnlf, '#00ffff', 2.5)
segs(ax, pot_oml, '#ff0000', 2.5)
x, y = xy(pot_oml_burst)
ax.plot(x, y, color='#ff0000', lw=1.0)
ax.set_ylim(-9, -3)
ax.set_yticks(range(-9, -2))
ax.set_ylabel('Inferred potential (V)', fontsize=10.5)

# Panel d
ax = axes[3]
for data, col in [(low10, '#1f77b4'), (low9, '#ff7f0e'), (low8, '#2ca02c'), (low6, '#d62728')]:
    x, y = xy(data)
    ax.plot(x, y, color=col, lw=2.2)
ax.axhline(0, color='#0000ff', lw=1.8, zorder=4)
ax.set_ylim(-2.5, 10)
ax.set_yticks(range(-2, 11, 2))
ax.set_ylabel('Current (nA)', fontsize=10.5)
ax.set_xlabel('UTC Time 2020/1/4', fontsize=10.5)

# panel letters
for tw, letter, pos in zip(twins, 'abcd', [(825, 33), (820, 425), (820, 812), (822, 1195)]):
    tw.annotate(letter, xy=fp(*pos), xycoords='figure fraction', ha='center', va='center',
                fontsize=15.5, family=ANN_FONT, annotation_clip=False)

# annotations
t = twins[0]
label(t, '+10 V\nprobe', (278, 83)); arrow(t, (350, 100), (368, 122))
label(t, '+9 V\nprobe', (264, 158)); arrow(t, (328, 180), (366, 201))
label(t, '+8 V\nprobe', (537, 204)); arrow(t, (597, 230), (633, 298))
label(t, '+6 V\nprobe', (537, 277)); arrow(t, (593, 305), (616, 334))

t = twins[1]
label(t, 'RBF', (322, 443), ha='center'); arrow(t, (342, 455), (373, 470))
label(t, 'Neural\nnetwork', (474, 433), ha='center'); arrow(t, (430, 427), (400, 435))
label(t, 'Affine\ntransformed\nJLF', (210, 503)); arrow(t, (342, 503), (383, 522))
label(t, 'BNLF', (393, 655), ha='center'); arrow(t, (388, 638), (368, 593))
label(t, 'RBF\ncorrected\nJLF', (553, 620), ha='center')
arrow(t, (522, 587), (445, 593)); arrow(t, (583, 585), (620, 547))

t = twins[2]
label(t, 'RBF', (377, 822), ha='center'); arrow(t, (377, 837), (405, 865))
label(t, 'BNLF', (325, 1027), ha='center'); arrow(t, (342, 1007), (360, 977))
label(t, 'Adapted OML Eq. 14', (102, 1117)); arrow(t, (295, 1102), (340, 1087))

t = twins[3]
label(t, '+8 V\nprobe', (93, 1323)); arrow(t, (158, 1325), (188, 1309))
label(t, '+6 V\nprobe', (372, 1339)); arrow(t, (363, 1337), (322, 1320))
label(t, '+9 V\nprobe', (438, 1300)); arrow(t, (500, 1322), (543, 1345))
label(t, '+10 V\nprobe', (626, 1248)); arrow(t, (623, 1248), (558, 1223))

fig.savefig('out.png', dpi=100)
